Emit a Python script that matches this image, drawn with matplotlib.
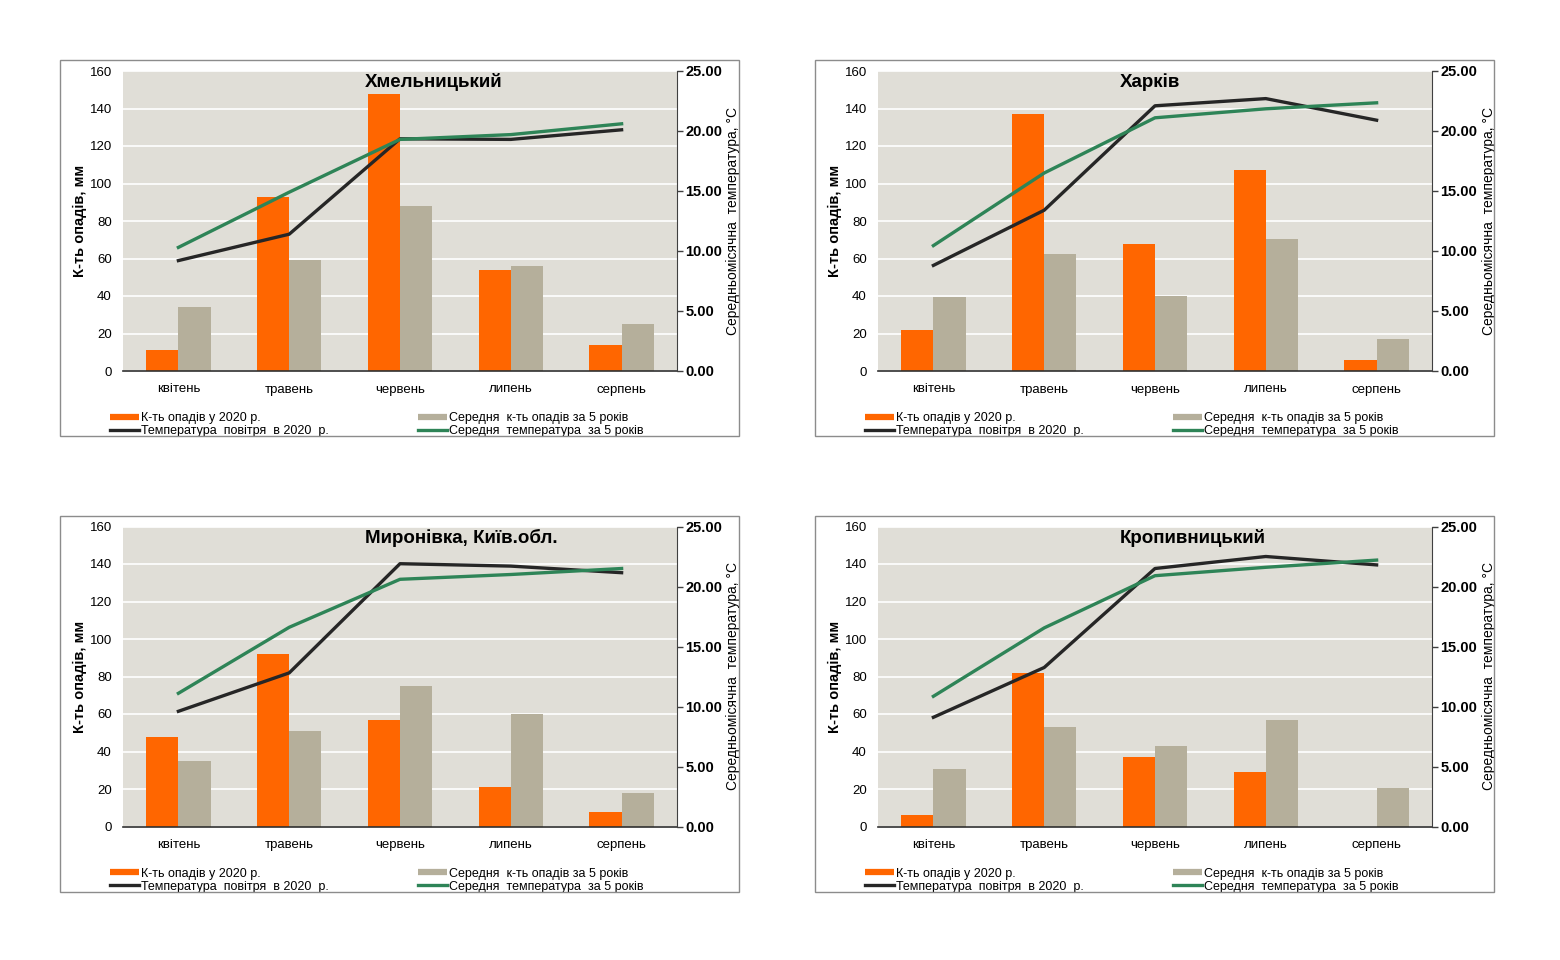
import matplotlib
matplotlib.use("Agg")
import matplotlib.pyplot as plt
from matplotlib.lines import Line2D
from matplotlib.patches import Rectangle
from matplotlib.ticker import FormatStrFormatter
import numpy as np

# ---- data ----
months = ["квітень", "травень", "червень", "липень", "серпень"]
stations = ["Хмельницький", "Харків", "Миронівка, Київ.обл.", "Кропивницький"]

rain_2020 = {
    "Хмельницький": [11, 93, 148, 54, 14],
    "Харків": [22, 137, 68, 107, 6],
    "Миронівка, Київ.обл.": [48, 92, 57, 21, 8],
    "Кропивницький": [6, 82, 37, 29, 0],
}
rain_avg = {
    "Хмельницький": [34, 59, 88, 56, 25],
    "Харків": [39.5, 62.5, 40, 70.5, 17],
    "Миронівка, Київ.обл.": [35, 51, 75, 60, 18],
    "Кропивницький": [30.5, 53, 43, 57, 20.5],
}
temp_2020 = {
    "Хмельницький": [9.2, 11.4, 19.35, 19.3, 20.1],
    "Харків": [8.8, 13.4, 22.1, 22.7, 20.9],
    "Миронівка, Київ.обл.": [9.6, 12.8, 21.9, 21.7, 21.15],
    "Кропивницький": [9.1, 13.25, 21.5, 22.5, 21.8],
}
temp_avg = {
    "Хмельницький": [10.3, 14.9, 19.3, 19.7, 20.6],
    "Харків": [10.45, 16.5, 21.1, 21.85, 22.35],
    "Миронівка, Київ.обл.": [11.1, 16.6, 20.6, 21.0, 21.5],
    "Кропивницький": [10.85, 16.55, 20.9, 21.6, 22.2],
}

lbl_r20 = "К-ть опадів у 2020 р."
lbl_ravg = "Середня  к-ть опадів за 5 років"
lbl_t20 = "Температура  повітря  в 2020  р."
lbl_tavg = "Середня  температура  за 5 років"

# ---- style ----
ORANGE = "#FF6600"
GREY = "#B5AF9B"
BLACK = "#262626"
GREEN = "#2E8457"
BG = "#E0DED7"
FONT = ["Liberation Sans", "DejaVu Sans"]
plt.rcParams["font.family"] = FONT

W, H = 1560, 960
fig = plt.figure(figsize=(W / 100, H / 100), dpi=100)

def px_axes(x0, y0, x1, y1):
    return fig.add_axes([x0 / W, 1 - y1 / H, (x1 - x0) / W, (y1 - y0) / H])

origins = [(60, 60), (815, 60), (60, 515.5), (815, 515.5)]
x = np.arange(len(months))
bw = 0.29

for name, (ox, oy) in zip(stations, origins):
    # panel frame
    fig.patches.append(Rectangle((ox / W, 1 - (oy + 376) / H), 679 / W, 376 / H,
                                 transform=fig.transFigure, fill=False,
                                 edgecolor="#8c8c8c", linewidth=1))
    ax = px_axes(ox + 63, oy + 11, ox + 617, oy + 311)
    ax.set_facecolor(BG)
    ax.set_axisbelow(True)
    ax.bar(x - bw / 2, rain_2020[name], bw, color=ORANGE, zorder=2)
    ax.bar(x + bw / 2, rain_avg[name], bw, color=GREY, zorder=2)
    ax.set_xlim(-0.5, 4.5)
    ax.set_ylim(0, 160)
    ax.set_yticks(range(0, 161, 20))
    ax.grid(axis="y", color="white", linewidth=1.2)
    ax.set_xticks(x)
    ax.set_xticklabels(months, fontsize=9.5)
    ax.tick_params(axis="y", labelsize=9.5, length=0, pad=8)
    ax.tick_params(axis="x", length=0, pad=9)
    for s in ["left", "top", "right"]:
        ax.spines[s].set_visible(False)
    ax.spines["bottom"].set_color("#303030")
    ax.spines["bottom"].set_linewidth(1.2)
    ax.set_ylabel("К-ть опадів, мм", fontweight="bold", fontsize=10.5, labelpad=2)

    ax2 = ax.twinx()
    ax2.plot(x, temp_2020[name], color=BLACK, lw=2.4)
    ax2.plot(x, temp_avg[name], color=GREEN, lw=2.4)
    ax2.set_ylim(0, 25)
    ax2.set_yticks(range(0, 26, 5))
    ax2.yaxis.set_major_formatter(FormatStrFormatter("%.2f"))
    for t in ax2.get_yticklabels():
        t.set_fontweight("bold")
    ax2.tick_params(axis="y", labelsize=10.5, length=4, width=1, color="#404040", pad=2)
    for s in ["left", "top", "bottom"]:
        ax2.spines[s].set_visible(False)
    ax2.spines["right"].set_color("#404040")
    ax2.set_ylabel("Середньомісячна  температура, °C", fontsize=10, labelpad=3)

    ax.text(0.437, 0.962, name, transform=ax.transAxes, ha="left", va="center",
            fontweight="bold", fontsize=13.5, zorder=5)

    # legend in two columns
    h_r20 = Line2D([], [], color=ORANGE, lw=4.5, solid_capstyle="butt")
    h_ravg = Line2D([], [], color=GREY, lw=4.5, solid_capstyle="butt")
    h_t20 = Line2D([], [], color=BLACK, lw=2.4)
    h_tavg = Line2D([], [], color=GREEN, lw=2.4)
    common = dict(loc="upper left", frameon=False, handlelength=2.3, handletextpad=0.2,
                  labelspacing=0.1, borderpad=0, borderaxespad=0,
                  prop={"family": FONT, "size": 9})
    leg1 = ax.legend([h_r20, h_t20], [lbl_r20, lbl_t20],
                     bbox_to_anchor=((50 - 63) / 554, (311 - 352) / 300), **common)
    ax.add_artist(leg1)
    ax.legend([h_ravg, h_tavg], [lbl_ravg, lbl_tavg],
              bbox_to_anchor=((358 - 63) / 554, (311 - 352) / 300), **common)

fig.savefig("out.png", dpi=100)
